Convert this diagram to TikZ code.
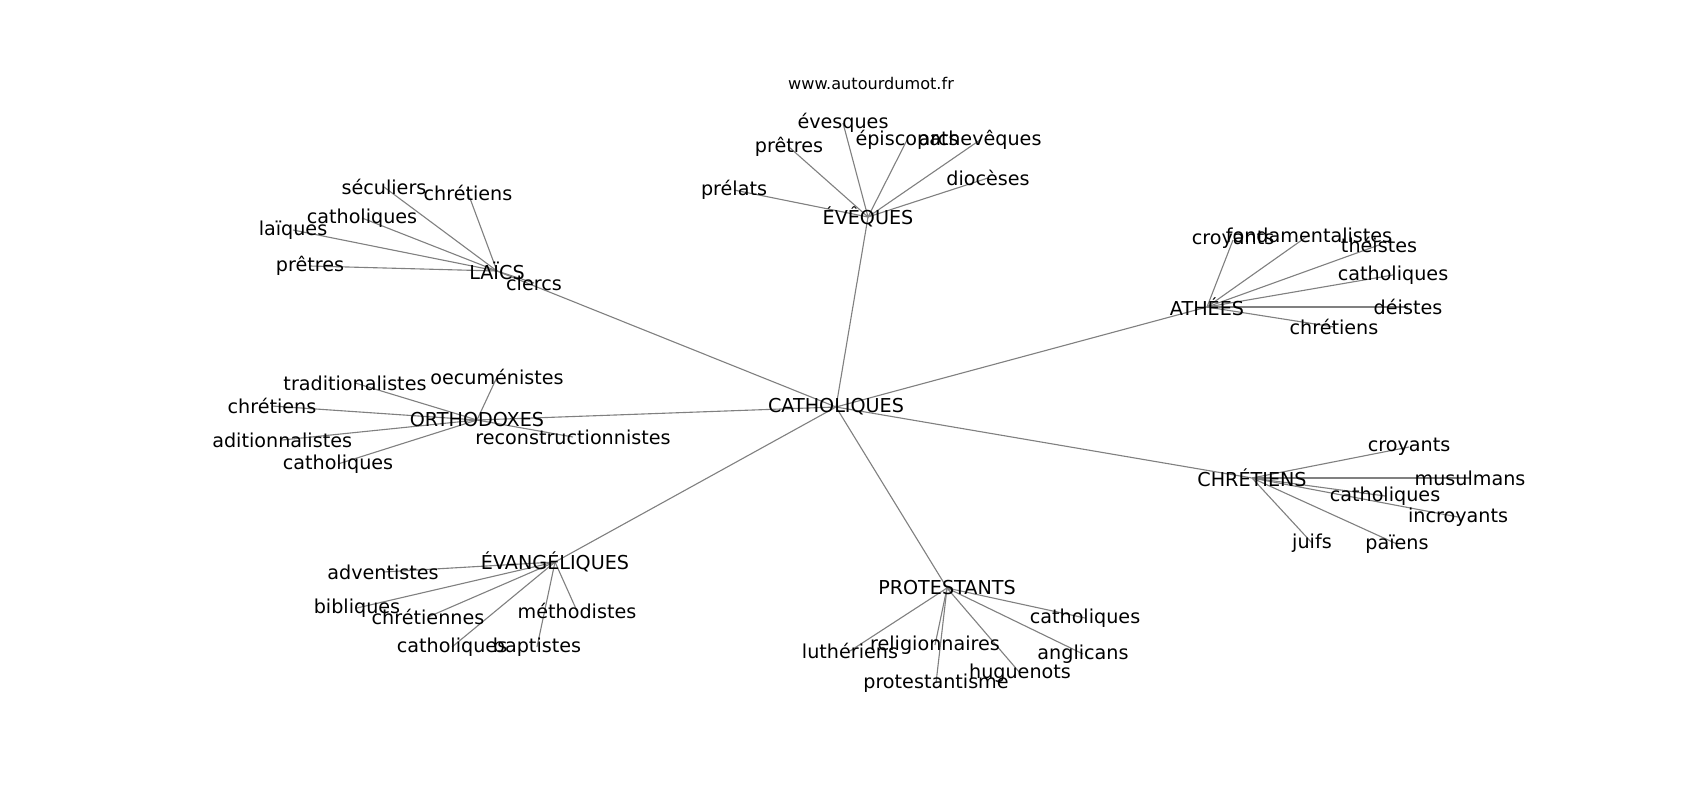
\documentclass[tikz,border=0pt]{standalone}
\usepackage{fontspec}
\setmainfont{DejaVu Sans}
\usetikzlibrary{backgrounds}

\begin{document}
\begin{tikzpicture}[x=0.72pt,y=-0.72pt,
  word node/.style={inner sep=0pt,font=\fontsize{13.8}{16}\selectfont},
  hub node/.style={word node},
  link/.style={-, draw=black!50, line width=0.8pt}]
  \useasboundingbox (0,0) rectangle (1700,800);

  \node[font=\fontsize{11.6}{14}\selectfont] (site) at (871,83) {www.autourdumot.fr};

  % hubs
  \node[hub node] (cath) at (836,407) {CATHOLIQUES};
  \node[hub node] (eveq) at (868,217) {ÉVÊQUES};
  \node[hub node] (laic) at (497,271) {LAÏCS};
  \node[hub node] (athe) at (1207,307) {ATHÉES};
  \node[hub node] (chre) at (1252,478) {CHRÉTIENS};
  \node[hub node] (orth) at (477,420) {ORTHODOXES};
  \node[hub node] (evan) at (555,562) {ÉVANGÉLIQUES};
  \node[hub node] (prot) at (947,588) {PROTESTANTS};

  % leaves
  \node[word node] (ev1) at (843,123) {évesques};
  \node[word node] (ev2) at (789,147) {prêtres};
  \node[word node] (ev3) at (907,140) {épiscopats};
  \node[word node] (ev4) at (980,140) {archevêques};
  \node[word node] (ev5) at (988,178) {diocèses};
  \node[word node] (ev6) at (734,190) {prélats};

  \node[word node] (la1) at (384,187) {séculiers};
  \node[word node] (la2) at (468,193) {chrétiens};
  \node[word node] (la3) at (362,218) {catholiques};
  \node[word node] (la4) at (293,230) {laïques};
  \node[word node] (la5) at (310,266) {prêtres};
  \node[word node] (la6) at (534,283) {clercs};

  \node[word node] (at1) at (1233,240) {croyants};
  \node[word node] (at2) at (1309,235) {fondamentalistes};
  \node[word node] (at3) at (1379,245) {théistes};
  \node[word node] (at4) at (1393,275) {catholiques};
  \node[word node] (at5) at (1408,307) {déistes};
  \node[word node] (at6) at (1334,327) {chrétiens};

  \node[word node] (ch1) at (1409,447) {croyants};
  \node[word node] (ch2) at (1470,478) {musulmans};
  \node[word node] (ch3) at (1385,496) {catholiques};
  \node[word node] (ch4) at (1458,517) {incroyants};
  \node[word node] (ch5) at (1312,543) {juifs};
  \node[word node] (ch6) at (1397,544) {païens};

  \node[word node] (or1) at (355,383) {traditionalistes};
  \node[word node] (or2) at (497,377) {oecuménistes};
  \node[word node] (or3) at (272,406) {chrétiens};
  \node[word node,anchor=west] (or4) at (212,440) {aditionnalistes};
  \node[word node] (or5) at (573,437) {reconstructionnistes};
  \node[word node] (or6) at (338,464) {catholiques};

  \node[word node] (ea1) at (383,572) {adventistes};
  \node[word node] (ea2) at (357,608) {bibliques};
  \node[word node] (ea3) at (428,617) {chrétiennes};
  \node[word node] (ea4) at (577,611) {méthodistes};
  \node[word node] (ea5) at (452,647) {catholiques};
  \node[word node] (ea6) at (537,647) {baptistes};

  \node[word node] (pr1) at (1085,618) {catholiques};
  \node[word node] (pr2) at (850,651) {luthériens};
  \node[word node] (pr3) at (935,645) {religionnaires};
  \node[word node] (pr4) at (1083,654) {anglicans};
  \node[word node] (pr5) at (1020,673) {huguenots};
  \node[word node] (pr6) at (936,683) {protestantisme};

  \begin{scope}[on background layer]
    \foreach \h in {eveq,laic,athe,chre,orth,evan,prot}
      \path (cath.center) [link] edge (\h.center);
    \foreach \l in {1,...,6} {
      \path (eveq.center) [link] edge (ev\l.center);
      \path (laic.center) [link] edge (la\l.center);
      \path (athe.center) [link] edge (at\l.center);
      \path (chre.center) [link] edge (ch\l.center);
      \path (orth.center) [link] edge (or\l.center);
      \path (evan.center) [link] edge (ea\l.center);
      \path (prot.center) [link] edge (pr\l.center);
    }
  \end{scope}
\end{tikzpicture}
\end{document}
